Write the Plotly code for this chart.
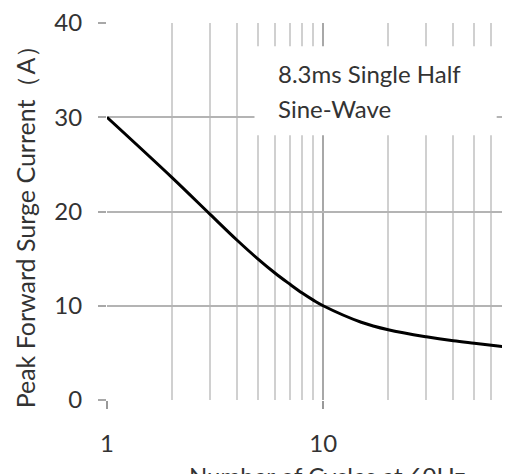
import plotly.graph_objects as go

# Data
cycles = [1, 2, 3, 4, 5, 6, 7, 8, 9, 10, 15, 20, 30, 40, 50, 60, 70, 73]
current = [30, 23.6, 19.7, 16.95, 14.95, 13.45, 12.3, 11.35, 10.6, 10.0, 8.25, 7.45, 6.7, 6.28, 6.02, 5.81, 5.62, 5.57]

x_major = [1, 10]
x_major_labels = ["1", "10"]
x_minor = [2, 3, 4, 5, 6, 7, 8, 9, 20, 30, 40, 50, 60, 70]
y_ticks = [0, 10, 20, 30, 40]

FONT = "Lato"
TXT = "#333333"

fig = go.Figure()
fig.add_trace(go.Scatter(
    x=cycles, y=current, mode="lines",
    line=dict(color="black", width=3, shape="spline", smoothing=1.0),
    hoverinfo="skip", showlegend=False,
))

fig.update_layout(
    width=502, height=466,
    margin=dict(l=99.3, r=0, t=14.7, b=74),
    paper_bgcolor="white", plot_bgcolor="white",
    font=dict(family=FONT, size=24, color=TXT),
    xaxis=dict(
        type="log", range=[0, 402.7 / 216.0],
        tickvals=x_major, ticktext=x_major_labels,
        ticks="outside", ticklen=8, tickcolor="#999999", tickwidth=1.5,
        showgrid=True, gridcolor="#a8a8a8", gridwidth=1.5,
        minor=dict(tickvals=x_minor, showgrid=True, gridcolor="#d0d0d0", gridwidth=1.5, ticks=""),
        showline=False, zeroline=False,
        ticklabelstandoff=14,
        ticklabeloverflow="allow",
        tickfont=dict(family=FONT, size=24, color=TXT),
    ),
    yaxis=dict(
        range=[0, 40], tickvals=y_ticks,
        ticks="outside", ticklen=8, tickcolor="#a8a8a8", tickwidth=1.5,
        showgrid=True, gridcolor="#b4b4b4", gridwidth=1.5,
        showline=False, zeroline=False,
        ticklabelstandoff=11,
        ticklabeloverflow="allow",
        tickfont=dict(family=FONT, size=24, color=TXT),
    ),
    shapes=[dict(
        type="rect", xref="paper", yref="paper",
        x0=0.366, x1=0.967, y0=0.702, y1=0.938,
        fillcolor="white", line=dict(width=0), layer="above",
    )],
    annotations=[
        dict(text="8.3ms Single Half", xref="paper", yref="paper", x=0.419, y=0.867,
             xanchor="left", yanchor="middle", showarrow=False,
             font=dict(family=FONT, size=24, color=TXT)),
        dict(text="Sine-Wave", xref="paper", yref="paper", x=0.419, y=0.774,
             xanchor="left", yanchor="middle", showarrow=False,
             font=dict(family=FONT, size=24, color=TXT)),
        dict(text="Peak Forward Surge Current（A）", xref="paper", yref="paper",
             x=-0.203, y=0.477, xanchor="center", yanchor="middle", textangle=-90,
             showarrow=False, font=dict(family=FONT, size=25, color=TXT)),
        dict(text="Number of Cycles at 60Hz", xref="paper", yref="paper",
             x=0.546, y=-0.201, xanchor="center", yanchor="middle",
             showarrow=False, font=dict(family=FONT, size=24, color=TXT)),
    ],
)

fig.write_html("out.html")
